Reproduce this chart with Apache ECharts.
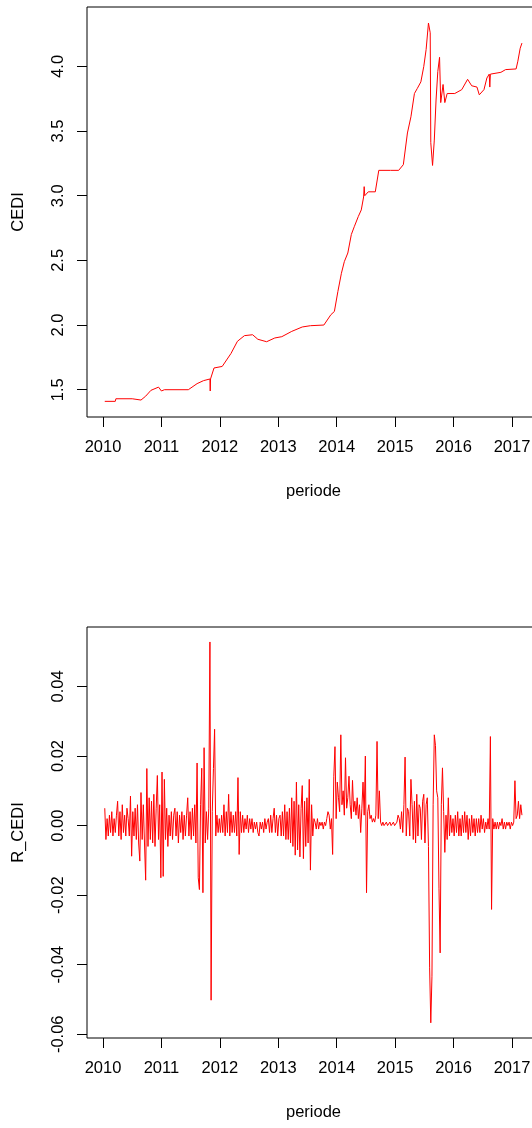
<!DOCTYPE html>
<html>
<head>
<meta charset="utf-8">
<script src="https://cdn.jsdelivr.net/npm/echarts@6/dist/echarts.min.js"></script>
<style>
html,body{margin:0;padding:0;background:#fff;}
#chart{width:532px;height:1128px;}
</style>
</head>
<body>
<div id="chart"></div>
<script>
// ---- Data ----
var xTickYears = [2010, 2011, 2012, 2013, 2014, 2015, 2016, 2017];
var cediTicks = [1.5, 2.0, 2.5, 3.0, 3.5, 4.0];
var returnTicks = [-0.06, -0.04, -0.02, 0.00, 0.02, 0.04];

// CEDI level: decimal year and value
var cediDates = [
  2010.03, 2010.21, 2010.22, 2010.50, 2010.65, 2010.73, 2010.82, 2010.95,
  2011.00, 2011.05, 2011.46, 2011.61, 2011.72, 2011.83, 2011.835, 2011.84, 2011.90,
  2012.04, 2012.19, 2012.30, 2012.42, 2012.56, 2012.65, 2012.80, 2012.94,
  2013.06, 2013.23, 2013.41, 2013.55, 2013.78, 2013.90, 2013.96,
  2014.02, 2014.08, 2014.13, 2014.19, 2014.25, 2014.30, 2014.37, 2014.42, 2014.46, 2014.47, 2014.48, 2014.54, 2014.66, 2014.72, 2014.92,
  2015.06, 2015.14, 2015.21, 2015.27, 2015.33, 2015.38, 2015.44, 2015.49, 2015.53, 2015.57, 2015.60, 2015.61, 2015.64, 2015.67, 2015.70, 2015.73, 2015.76, 2015.78, 2015.82, 2015.85, 2015.89,
  2016.02, 2016.14, 2016.24, 2016.31, 2016.40, 2016.44, 2016.52, 2016.57, 2016.61, 2016.62, 2016.63, 2016.66, 2016.81, 2016.89,
  2017.07, 2017.10, 2017.14, 2017.17
];
var cediValues = [
  1.41, 1.41, 1.43, 1.43, 1.42, 1.45, 1.495, 1.52,
  1.49, 1.50, 1.50, 1.547, 1.57, 1.583, 1.49, 1.583, 1.668,
  1.68, 1.78, 1.874, 1.918, 1.925, 1.89, 1.871, 1.90,
  1.91, 1.951, 1.985, 1.995, 2.00, 2.08, 2.105,
  2.26, 2.40, 2.49, 2.557, 2.70, 2.76, 2.84, 2.89, 2.99, 3.07, 3.00, 3.03, 3.03, 3.196, 3.196,
  3.196, 3.24, 3.485, 3.61, 3.79, 3.83, 3.88, 4.00, 4.13, 4.335, 4.26, 3.41, 3.234, 3.43, 3.74, 3.96, 4.07, 3.72, 3.86, 3.72, 3.79,
  3.79, 3.82, 3.90, 3.85, 3.84, 3.78, 3.82, 3.91, 3.94, 3.84, 3.94, 3.954, 3.954, 3.975,
  3.98, 4.04, 4.14, 4.18
];

// R_CEDI returns: regular series starting 2010.03, one value every 0.02 year
var returnStart = 2010.03;
var returnStep = 0.02;
var returnValues = [
  0.005,-0.004,0.002,-0.003,0.003,-0.002,0.004,-0.003,0.002,-0.002,
  0.003,0.007,-0.003,0.004,-0.004,0.006,-0.002,0.003,-0.003,0.005,
  0.002,-0.003,0.0085,-0.0088,0.004,-0.003,0.005,-0.004,0.006,-0.005,
  -0.0102,0.0095,-0.004,0.006,-0.005,-0.0157,0.0164,-0.006,0.008,-0.004,
  0.007,-0.005,0.009,-0.006,0.005,0.0144,-0.004,0.006,-0.015,0.0154,
  -0.0146,0.0133,-0.004,0.005,-0.006,0.003,-0.003,0.004,-0.004,0.003,
  0.005,-0.003,0.004,-0.005,0.003,-0.002,0.004,-0.004,0.003,-0.003,
  0.003,0.008,-0.003,0.004,-0.004,0.005,-0.003,0.006,-0.005,0.018,
  -0.015,-0.0184,0.006,0.0165,-0.0193,0.0224,-0.005,0.004,-0.004,0.005,
  0.0528,-0.0502,0.004,0.0164,0.0277,-0.003,0.003,-0.002,0.002,-0.002,
  0.003,-0.002,0.006,-0.003,0.004,-0.002,0.009,-0.003,0.004,-0.002,
  0.003,-0.002,0.004,-0.003,0.0138,-0.0083,0.004,-0.002,0.003,-0.002,
  0.002,-0.001,0.003,-0.002,0.002,-0.001,0.002,-0.002,0.001,-0.001,
  0.001,-0.002,-0.003,0.001,-0.001,0.001,-0.002,0.002,-0.001,0.001,
  0.002,-0.002,0.003,-0.002,0.002,0.005,-0.002,0.003,-0.003,0.002,
  0.003,-0.003,0.004,-0.003,0.006,-0.004,0.004,-0.004,0.005,-0.005,
  0.008,-0.006,0.007,-0.0085,0.0125,-0.007,0.006,-0.009,0.005,0.0115,
  -0.0095,0.007,-0.006,0.008,-0.005,0.0133,-0.0128,0.006,-0.003,0.002,
  0.001,-0.001,0.002,-0.001,0.001,0.000,0.001,-0.001,0.001,0.000,
  0.002,0.004,0.003,-0.001,0.002,-0.0083,0.0142,0.0227,0.002,0.0125,
  0.008,0.004,0.0261,0.006,0.010,0.003,0.0195,0.005,0.008,0.0142,
  0.006,0.002,0.013,0.004,0.007,0.003,0.008,0.002,0.006,-0.002,
  0.005,0.0125,0.003,0.020,-0.0193,0.004,0.006,0.002,0.003,0.001,
  0.002,0.001,0.003,0.0242,0.002,0.010,0.001,0.000,0.001,0.000,
  0.000,0.001,0.000,0.000,0.001,0.000,0.000,0.001,0.000,0.000,
  0.001,0.003,0.002,-0.001,0.004,-0.002,0.006,0.0197,-0.003,0.005,
  0.004,-0.003,0.0133,0.006,-0.004,0.007,-0.005,0.009,-0.003,0.006,
  0.005,-0.004,0.007,0.009,-0.005,0.006,0.008,-0.006,-0.0409,-0.0567,
  -0.0433,0.006,0.0261,0.023,0.010,0.008,-0.018,-0.0366,0.006,0.0166,
  0.004,-0.0077,0.003,-0.004,0.008,-0.003,0.003,-0.002,0.002,-0.003,
  0.003,-0.002,0.004,-0.003,0.002,-0.003,0.003,-0.002,0.004,-0.002,
  0.003,-0.004,0.002,-0.003,0.003,-0.002,0.002,-0.003,0.002,-0.002,
  0.002,-0.002,0.003,-0.001,0.002,-0.002,0.001,-0.001,0.002,-0.001,
  0.0256,-0.0241,0.002,-0.001,0.001,-0.001,0.001,-0.001,0.001,0.000,
  0.002,-0.001,0.001,-0.001,0.001,0.000,0.001,-0.001,0.001,0.000,
  0.001,0.0129,0.002,0.003,0.007,0.002,0.006,0.003
];

// ---- Build series data ----
var cediData = cediDates.map(function (d, i) { return [d, cediValues[i]]; });
var returnData = returnValues.map(function (v, i) { return [returnStart + i * returnStep, v]; });

var FONT = '"Liberation Sans", Arial, sans-serif';
var TXT = '#000';
var FS = 16.5;

function xAxisCfg(gridIndex) {
  return {
    type: 'value', gridIndex: gridIndex, position: 'bottom',
    min: 2009.726, max: 2017.479,
    name: 'periode', nameLocation: 'middle', nameGap: 66,
    nameTextStyle: { color: TXT, fontSize: FS, fontFamily: FONT },
    axisLine: { show: false, onZero: false },
    axisTick: { show: true, length: 10, inside: false, customValues: xTickYears,
                lineStyle: { color: '#000', width: 1 } },
    axisLabel: { show: true, margin: 22, color: TXT, fontSize: FS, fontFamily: FONT,
                 customValues: xTickYears, formatter: function (v) { return String(Math.round(v)); } },
    splitLine: { show: false }
  };
}
function yAxisCfg(gridIndex, name, min, max, ticks, digits) {
  return {
    type: 'value', gridIndex: gridIndex, min: min, max: max, position: 'left',
    name: name, nameLocation: 'middle', nameGap: 60, nameRotate: 90,
    nameTextStyle: { color: TXT, fontSize: FS, fontFamily: FONT },
    axisLine: { show: false, onZero: false },
    axisTick: { show: true, length: 10, inside: false, customValues: ticks,
                lineStyle: { color: '#000', width: 1 } },
    axisLabel: { show: true, rotate: 90, margin: 20, color: TXT, fontSize: FS, fontFamily: FONT,
                 customValues: ticks, formatter: function (v) { return v.toFixed(digits); } },
    splitLine: { show: false }
  };
}

var chart = echarts.init(document.getElementById('chart'), null, { renderer: 'canvas' });
chart.setOption({
  animation: false,
  backgroundColor: '#fff',
  grid: [
    { left: 87, top: 7, width: 453, height: 410, show: true, borderColor: '#000', borderWidth: 1,
      backgroundColor: 'transparent', containLabel: false, outerBoundsMode: 'none' },
    { left: 87, top: 627, width: 453, height: 411, show: true, borderColor: '#000', borderWidth: 1,
      backgroundColor: 'transparent', containLabel: false, outerBoundsMode: 'none' }
  ],
  xAxis: [xAxisCfg(0), xAxisCfg(1)],
  yAxis: [
    yAxisCfg(0, 'CEDI', 1.289, 4.459, cediTicks, 1),
    yAxisCfg(1, 'R_CEDI', -0.06107, 0.0571, returnTicks, 2)
  ],
  series: [
    { type: 'line', xAxisIndex: 0, yAxisIndex: 0, data: cediData, symbol: 'none',
      lineStyle: { color: '#ff0000', width: 1 }, silent: true },
    { type: 'line', xAxisIndex: 1, yAxisIndex: 1, data: returnData, symbol: 'none',
      lineStyle: { color: '#ff0000', width: 1 }, silent: true }
  ]
});
</script>
</body>
</html>
